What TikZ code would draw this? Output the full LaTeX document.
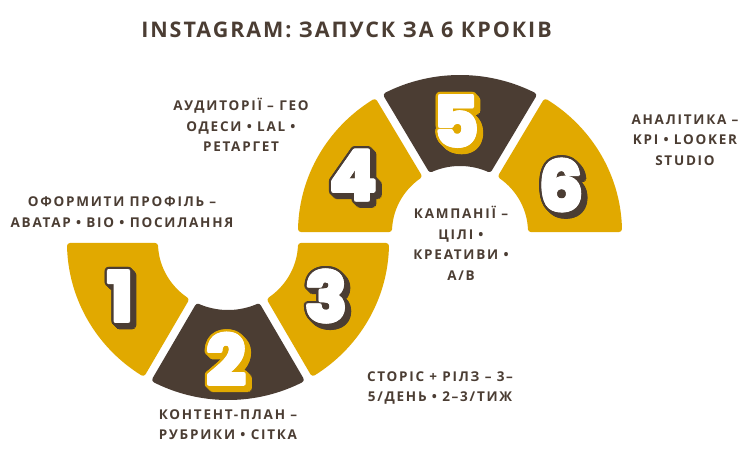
\documentclass[tikz,border=0pt]{standalone}
\usepackage{fontspec}
\setmainfont{Open Sans}
\newfontfamily\lblfont[LetterSpace=13]{Open Sans}
\newfontfamily\titlefont[LetterSpace=9]{Open Sans}
\newfontfamily\digfont{Poppins}[BoldFeatures={FakeBold=2.5}]
\definecolor{gold}{HTML}{E1A900}
\definecolor{cocoa}{HTML}{4B3D33}
\tikzset{
  lbl/.style={text=cocoa, align=center, inner sep=0pt, font=\lblfont\bfseries\fontsize{13.5}{20.5}\selectfont},
  ttl/.style={text=cocoa, inner sep=0pt, font=\titlefont\bfseries\fontsize{21.5}{24}\selectfont},
  dig/.style={inner sep=0pt, font=\digfont\bfseries\fontsize{68}{68}\selectfont},
  segfill/.style={fill=#1, draw=#1, line width=6pt, line join=round}
}
\newcommand\ringseg[7]{%
  \pgfmathsetmacro\sA{#3+deg((#5+3)/((\ROX+\ROY)/2-3))}%
  \pgfmathsetmacro\sB{#4-deg((#6+3)/((\ROX+\ROY)/2-3))}%
  \pgfmathsetmacro\sC{#4-deg((#6+3)/((\RIX+\RIY)/2+3))}%
  \pgfmathsetmacro\sD{#3+deg((#5+3)/((\RIX+\RIY)/2+3))}%
  \pgfmathsetmacro\rox{\ROX-3}\pgfmathsetmacro\roy{\ROY-3}%
  \pgfmathsetmacro\rix{\RIX+3}\pgfmathsetmacro\riy{\RIY+3}%
  \path[segfill=#7]
    plot[domain=\sA:\sB, samples=60] ({#1+\rox*cos(\x)},{#2+\roy*sin(\x)})
    -- plot[domain=\sC:\sD, samples=40] ({#1+\rix*cos(\x)},{#2+\riy*sin(\x)}) -- cycle;
}
\newcommand\bigdig[5]{%
  \foreach \k in {1,2,3,4}{\foreach \a in {0,30,...,330}{%
    \node[dig, text=#5] at ({#2+\k+3.6*cos(\a)},{#3+\k+3.6*sin(\a)}) {#4};}}
  \foreach \a in {0,20,...,340}{\node[dig, text=#5] at ({#2+3.6*cos(\a)},{#3+3.6*sin(\a)}) {#4};}
  \foreach \a in {0,45,...,315}{\node[dig, text=white] at ({#2+1.3*cos(\a)},{#3+1.3*sin(\a)}) {#4};}
  \node[dig, text=white] (#1) at (#2,#3) {#4};
}
\begin{document}
\begin{tikzpicture}[x=1pt,y=-1pt]
\fill[white] (0,0) rectangle (746,450);
\useasboundingbox (0,0) rectangle (746,450);
% lower ring
\def\ROX{161}\def\ROY{157}\def\RIX{70}\def\RIY{67}
\ringseg{228}{243}{120}{180}{4}{0}{gold}
\ringseg{228}{243}{60}{120}{4}{4}{cocoa}
\ringseg{228}{243}{0}{60}{0}{4}{gold}
% upper ring
\def\ROX{162}\def\ROY{157}\def\RIX{68}\def\RIY{66}
\ringseg{460}{232}{180}{240}{0}{4}{gold}
\ringseg{460}{232}{240}{300}{4}{4}{cocoa}
\ringseg{460}{232}{300}{360}{4}{0}{gold}
% digits
\bigdig{d1}{120}{296}{1}{cocoa}
\bigdig{d2}{226}{359}{2}{gold}
\bigdig{d3}{326}{296}{3}{cocoa}
\bigdig{d4}{353}{175}{4}{cocoa}
\bigdig{d5}{456}{121}{5}{gold}
\bigdig{d6}{561}{185}{6}{cocoa}
% texts
\node[ttl] (title) at (346.5,29.5) {INSTAGRAM: ЗАПУСК ЗА 6 КРОКІВ};
\node[lbl] (l1) at (122,212) {ОФОРМИТИ ПРОФІЛЬ –\\АВАТАР • BIO • ПОСИЛАННЯ};
\node[lbl] (l2) at (228,424.5) {КОНТЕНТ-ПЛАН –\\РУБРИКИ • СІТКА};
\node[lbl] (l3) at (440,388) {СТОРІС + РІЛЗ – 3–\\5/ДЕНЬ • 2–3/ТИЖ};
\node[lbl] (l4) at (241,125) {АУДИТОРІЇ – ГЕО\\ОДЕСИ • LAL •\\РЕТАРГЕТ};
\node[lbl] (l5) at (461,243.5) {КАМПАНІЇ –\\ЦІЛІ •\\КРЕАТИВИ •\\A/B};
\node[lbl] (l6) at (685,140) {АНАЛІТИКА –\\KPI • LOOKER\\STUDIO};
\end{tikzpicture}
\end{document}
